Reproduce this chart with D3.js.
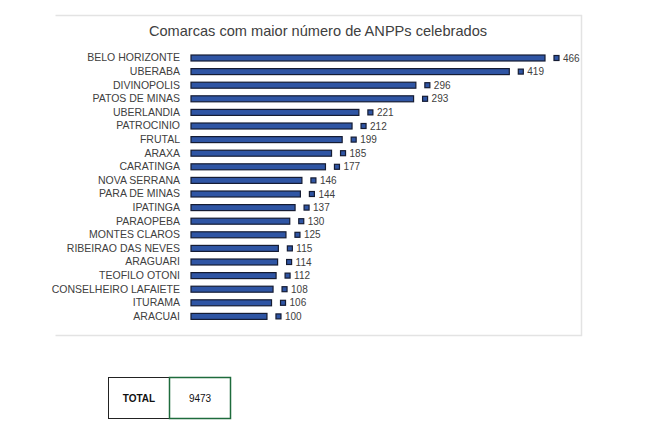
<!DOCTYPE html>
<html><head><meta charset="utf-8">
<script src="https://cdn.jsdelivr.net/npm/d3@7"></script>
<style>body{margin:0;background:#fff;} svg{display:block;}</style>
</head><body>
<svg id="c" width="650" height="433"></svg>
<script>
const categories = ["BELO HORIZONTE","UBERABA","DIVINOPOLIS","PATOS DE MINAS","UBERLANDIA","PATROCINIO","FRUTAL","ARAXA","CARATINGA","NOVA SERRANA","PARA DE MINAS","IPATINGA","PARAOPEBA","MONTES CLAROS","RIBEIRAO DAS NEVES","ARAGUARI","TEOFILO OTONI","CONSELHEIRO LAFAIETE","ITURAMA","ARACUAI"];
const values = [466,419,296,293,221,212,199,185,177,146,144,137,130,125,115,114,112,108,106,100];
const title = "Comarcas com maior número de ANPPs celebrados";
const totalLabel = "TOTAL";
const totalValue = 9473;

const svg = d3.select("#c");
const font = "'Liberation Sans', Arial, sans-serif";

// chart frame
svg.append("path").attr("d","M55.5,15.5 H581.5 V335.5 H55.5").attr("fill","none").attr("stroke","#e3e3e3").attr("stroke-width",1.5);

svg.append("text").attr("x",318).attr("y",36).attr("text-anchor","middle")
  .attr("font-family",font).attr("font-size",14.6).attr("fill","#404040").text(title);

const x = d3.scaleLinear().domain([0,466]).range([191,545]);
const y = d3.scaleBand().domain(categories).range([51.2,323.2]).paddingInner(0.56).paddingOuter(0.28);

const yAxis = d3.axisLeft(y).tickSize(0).tickPadding(11);
const ga = svg.append("g").attr("transform","translate(191,0)").call(yAxis);
ga.select(".domain").remove();
ga.selectAll("text").attr("font-family",font).attr("font-size",10.5).attr("fill","#404040");

svg.append("g").selectAll("rect").data(values).join("rect")
  .attr("x",x(0)).attr("y",(d,i)=>y(categories[i]))
  .attr("width",d=>x(d)-x(0)).attr("height",y.bandwidth())
  .attr("fill","#2f55a4").attr("stroke","#151c33").attr("stroke-width",1.2);

svg.append("g").selectAll("rect").data(values).join("rect")
  .attr("x",d=>x(d)+9).attr("y",(d,i)=>y(categories[i])+y.bandwidth()/2-2.5)
  .attr("width",5).attr("height",5)
  .attr("fill","#2f55a4").attr("stroke","#151c33").attr("stroke-width",1.2);

svg.append("g").selectAll("text").data(values).join("text")
  .attr("x",d=>x(d)+18).attr("y",(d,i)=>y(categories[i])+y.bandwidth()/2)
  .attr("dy","0.35em").attr("font-family",font).attr("font-size",10).attr("fill","#404040")
  .text(d=>d);

// total table
const t = svg.append("g");
t.append("rect").attr("x",108.5).attr("y",377.5).attr("width",61).attr("height",41).attr("fill","#fff").attr("stroke","#222").attr("stroke-width",1);
t.append("rect").attr("x",169.5).attr("y",377.5).attr("width",61).attr("height",41).attr("fill","#fff").attr("stroke","#1e6b3c").attr("stroke-width",1.5);
t.append("text").attr("x",139).attr("y",398).attr("dy","0.35em").attr("text-anchor","middle")
  .attr("font-family",font).attr("font-size",10).attr("font-weight","bold").attr("fill","#111").text(totalLabel);
t.append("text").attr("x",200).attr("y",398).attr("dy","0.35em").attr("text-anchor","middle")
  .attr("font-family",font).attr("font-size",10).attr("fill","#111").text(totalValue);
</script>
</body></html>
